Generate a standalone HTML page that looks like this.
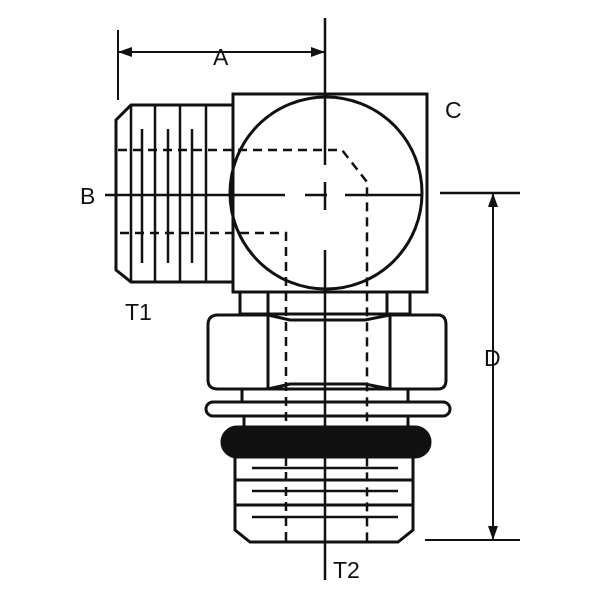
<!DOCTYPE html><html><head><style>body{margin:0;background:#fff}svg{display:block}text{font-family:"Liberation Sans",sans-serif;font-size:23px;fill:#111}</style></head><body>
<svg width="600" height="600" viewBox="0 0 600 600" fill="none" stroke="#111" stroke-width="3">
<!-- left threaded -->
<path d="M233,105 H131 L116,120 V270 L131,282 H233"/>
<g stroke-width="2.5"><path d="M131,105V282M155,105V282M180,105V282M206,105V282"/><path d="M142,129V263M168,129V263M192,129V263"/></g>
<!-- body -->
<rect x="233" y="94" width="194" height="198"/>
<circle cx="326" cy="193" r="96"/>
<!-- dashed -->
<g stroke-dasharray="9,6" stroke-width="2.5"><path d="M118,150H342L367,182V542"/><path d="M120,233H286V542"/></g>
<!-- centerlines -->
<g stroke-width="2.5"><path d="M105,195H285M305,195H327M345,195H423M440,193H520"/><path d="M325,18V165M325,182V210M325,250V580"/></g>
<!-- neck -->
<rect x="240" y="292" width="170" height="22"/><path d="M268,292V314M387,292V314"/>
<!-- hex -->
<path d="M218,315H268L290,320H365L390,315H438Q446,315 446,325V380Q446,389 438,389H390L365,384H290L268,389H218Q208,389 208,380V325Q208,315 218,315Z"/>
<path d="M268,315V389M390,315V389"/>
<rect x="242" y="389" width="166" height="13"/>
<rect x="206" y="402" width="244" height="14" rx="7"/>
<rect x="244" y="416" width="164" height="11"/>
<rect x="222" y="427" width="208" height="30" rx="15" fill="#111"/>
<path d="M235,457V530L250,542H398L413,530V457"/>
<path d="M235,480H413M235,505H413"/>
<path d="M252,468H398M252,491H398M252,517H398" stroke-width="2.5"/>
<!-- dims -->
<g stroke-width="2"><path d="M118,30V100M118,52H325"/><path d="M425,540H520M493,193V540"/></g>
<g fill="#111" stroke="none"><path d="M118,52l14,-5v10z"/><path d="M325,52l-14,-5v10z"/><path d="M493,193l-5,14h10z"/><path d="M493,540l-5,-14h10z"/></g>
<g stroke="none"><text x="213" y="65">A</text><text x="80" y="204">B</text><text x="445" y="118">C</text><text x="125" y="320">T1</text><text x="484" y="366">D</text><text x="333" y="578">T2</text></g>
</svg></body></html>
